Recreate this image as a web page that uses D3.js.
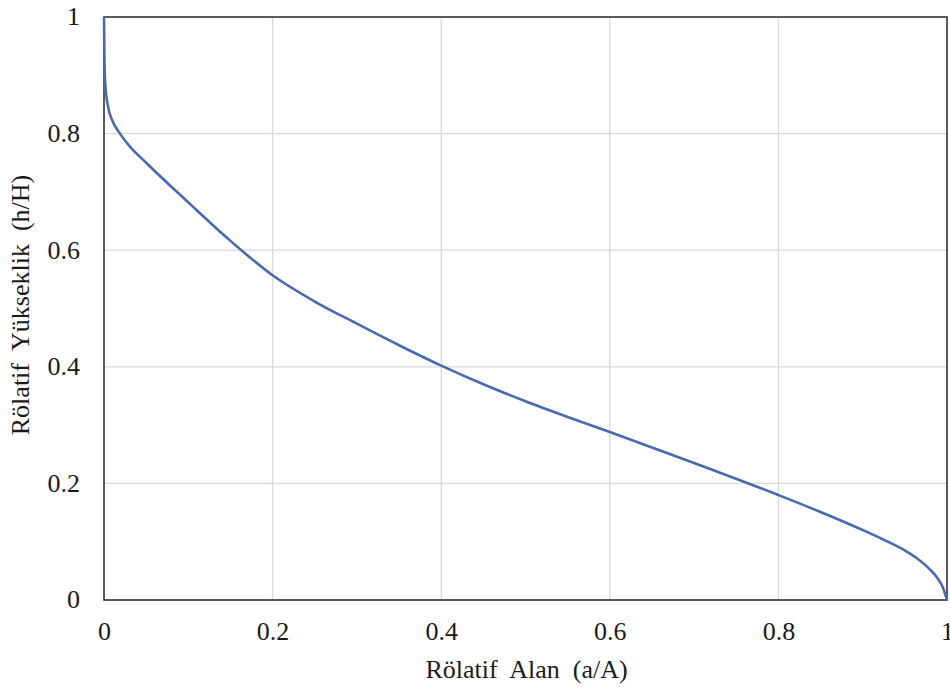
<!DOCTYPE html>
<html><head><meta charset="utf-8">
<script src="https://cdn.jsdelivr.net/npm/d3@7"></script>
<style>body{margin:0;background:#fff}svg{display:block}</style>
</head><body>
<svg id="c" width="950" height="688"></svg>
<script>
const xValues = [0, 0.0005, 0.0015, 0.005, 0.01, 0.019, 0.03, 0.05, 0.1, 0.15, 0.2, 0.25, 0.3, 0.35, 0.4, 0.45, 0.5, 0.55, 0.6, 0.7, 0.8, 0.85, 0.9, 0.924, 0.95, 0.964, 0.98, 0.988, 0.995, 1];
const yValues = [1, 0.93, 0.885, 0.845, 0.822, 0.8, 0.779, 0.750, 0.682, 0.616, 0.557, 0.512, 0.474, 0.437, 0.402, 0.370, 0.341, 0.314, 0.288, 0.235, 0.18, 0.151, 0.12, 0.104, 0.085, 0.072, 0.052, 0.039, 0.022, 0];
const xTicks = [0, 0.2, 0.4, 0.6, 0.8, 1];
const yTicks = [0, 0.2, 0.4, 0.6, 0.8, 1];
const xTitle = "Rölatif  Alan  (a/A)";
const yTitle = "Rölatif  Yükseklik  (h/H)";

const FONT = "'Liberation Serif', 'Times New Roman', serif";
const svg = d3.select("#c");
const m = {l:104, r:947, t:17, b:600};
const x = d3.scaleLinear().domain([0,1]).range([m.l, m.r]);
const y = d3.scaleLinear().domain([0,1]).range([m.b, m.t]);
const fmt = d => String(d);

// gridlines
svg.append("g").selectAll("line").data(xTicks.slice(1,-1)).join("line")
  .attr("x1", d=>x(d)).attr("x2", d=>x(d)).attr("y1", m.t).attr("y2", m.b)
  .attr("stroke", "#d9d9d9").attr("stroke-width", 1.3);
svg.append("g").selectAll("line").data(yTicks.slice(1,-1)).join("line")
  .attr("y1", d=>y(d)).attr("y2", d=>y(d)).attr("x1", m.l).attr("x2", m.r)
  .attr("stroke", "#d9d9d9").attr("stroke-width", 1.3);

// axes (labels only)
const xAxis = svg.append("g").attr("transform", `translate(0,${m.b})`)
  .call(d3.axisBottom(x).tickValues(xTicks).tickFormat(fmt).tickSize(0));
const yAxis = svg.append("g").attr("transform", `translate(${m.l},0)`)
  .call(d3.axisLeft(y).tickValues(yTicks).tickFormat(fmt).tickSize(0).tickPadding(24));
[xAxis, yAxis].forEach(a => {
  a.select(".domain").remove();
  a.attr("font-family", null).attr("font-size", null);
  a.selectAll("text").style("font-family", FONT).style("font-size", "26px").attr("fill", "#1a1a1a");
});
xAxis.selectAll("text").attr("y", 40).attr("dy", 0);
yAxis.selectAll("text").attr("dy", "0.3em");

// frame
svg.append("rect").attr("x", m.l).attr("y", m.t).attr("width", m.r-m.l).attr("height", m.b-m.t)
  .attr("fill", "none").attr("stroke", "#333").attr("stroke-width", 1.6);

// line
const data = xValues.map((v,i)=>({x:v, y:yValues[i]}));
svg.append("path").datum(data)
  .attr("fill", "none").attr("stroke", "#4a6aad").attr("stroke-width", 2.6)
  .attr("d", d3.line().x(d=>x(d.x)).y(d=>y(d.y)).curve(d3.curveMonotoneX));

// titles
svg.append("text").attr("x", (m.l+m.r)/2 + 1).attr("y", 678).attr("text-anchor", "middle")
  .style("font-family", FONT).style("font-size", "26px").style("white-space","pre")
  .attr("fill", "#1a1a1a").text(xTitle);
svg.append("text").attr("transform", `translate(29,305) rotate(-90)`).attr("text-anchor", "middle")
  .style("font-family", FONT).style("font-size", "26px").style("white-space","pre")
  .attr("fill", "#1a1a1a").text(yTitle);
</script>
</body></html>
